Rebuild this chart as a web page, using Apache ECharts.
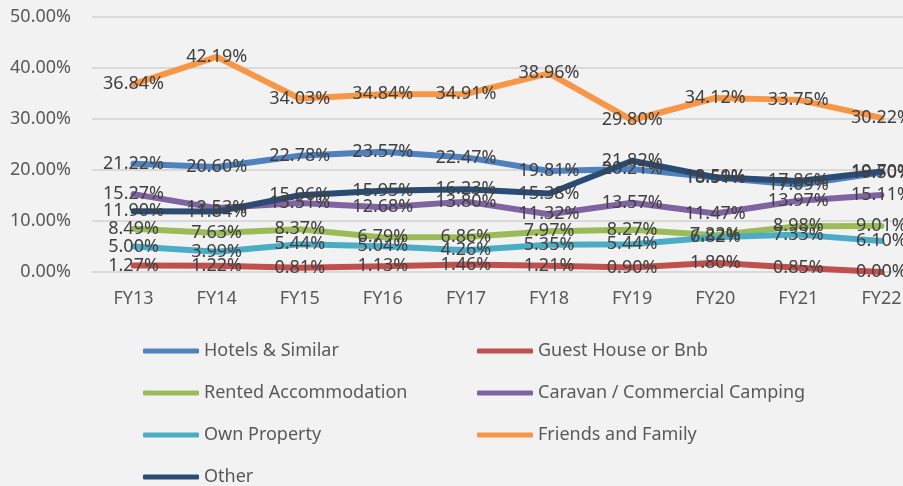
<!DOCTYPE html>
<html>
<head>
<meta charset="utf-8">
<script src="https://cdn.jsdelivr.net/npm/echarts@6/dist/echarts.min.js"></script>
<style>
  html, body { margin: 0; padding: 0; background: #f2f2f2; }
  #chart { width: 903px; height: 486px; }
</style>
</head>
<body>
<div id="chart"></div>
<script>
const categories = ['FY13', 'FY14', 'FY15', 'FY16', 'FY17', 'FY18', 'FY19', 'FY20', 'FY21', 'FY22']

const hotels = [21.22, 20.60, 22.78, 23.57, 22.47, 19.81, 20.21, 18.51, 17.09, 19.50]
const guestHouse = [1.27, 1.22, 0.81, 1.13, 1.46, 1.21, 0.90, 1.80, 0.85, 0.00]
const rented = [8.49, 7.63, 8.37, 6.79, 6.86, 7.97, 8.27, 7.22, 8.98, 9.01]
const caravan = [15.27, 12.53, 13.51, 12.68, 13.80, 11.32, 13.57, 11.47, 13.97, 15.11]
const ownProperty = [5.00, 3.99, 5.44, 5.04, 4.26, 5.35, 5.44, 6.82, 7.33, 6.10]
const friends = [36.84, 42.19, 34.03, 34.84, 34.91, 38.96, 29.80, 34.12, 33.75, 30.22]
const other = [11.90, 11.84, 15.06, 15.95, 16.23, 15.38, 21.82, 18.59, 17.86, 19.70]

const yTicks = { min: 0, max: 50, interval: 10 }

const font = 'Noto Sans'

function makeSeries(name, data, color) {
  return {
    name: name,
    type: 'line',
    data: data,
    symbol: 'circle',
    symbolSize: 1,
    lineStyle: { width: 6, color: color, cap: 'round', join: 'round' },
    itemStyle: { color: color },
    label: {
      show: true,
      position: 'inside',
      fontFamily: font,
      fontSize: 18,
      color: '#404040',
      formatter: function (p) { return p.value.toFixed(2) + '%' }
    },
    emphasis: { disabled: true },
    animation: false
  }
}

const series = [
  makeSeries('Hotels & Similar', hotels, '#4f81bd'),
  makeSeries('Guest House or Bnb', guestHouse, '#c0504d'),
  makeSeries('Rented Accommodation', rented, '#9bbb59'),
  makeSeries('Caravan / Commercial Camping', caravan, '#8064a2'),
  makeSeries('Own Property', ownProperty, '#4bacc6'),
  makeSeries('Friends and Family', friends, '#f79646'),
  makeSeries('Other', other, '#2a4b74')
]

const legendBase = {
  orient: 'vertical',
  top: 341,
  height: 200,
  padding: 0,
  itemWidth: 56,
  itemHeight: 5,
  itemGap: 22,
  icon: 'roundRect',
  textStyle: { fontFamily: font, fontSize: 18, color: '#595959', lineHeight: 20 }
}

const option = {
  backgroundColor: '#f2f2f2',
  animation: false,
  grid: { left: 92, width: 831, top: 17, height: 255, outerBoundsMode: 'none', containLabel: false },
  legend: [
    Object.assign({}, legendBase, {
      left: 143,
      data: ['Hotels & Similar', 'Rented Accommodation', 'Own Property', 'Other']
    }),
    Object.assign({}, legendBase, {
      left: 477,
      data: ['Guest House or Bnb', 'Caravan / Commercial Camping', 'Friends and Family']
    })
  ],
  xAxis: {
    type: 'category',
    data: categories,
    boundaryGap: true,
    axisLine: { show: false },
    axisTick: { show: false },
    axisLabel: { fontFamily: font, fontSize: 18, color: '#595959', margin: 18 }
  },
  yAxis: {
    type: 'value',
    min: yTicks.min,
    max: yTicks.max,
    interval: yTicks.interval,
    axisLine: { show: false },
    axisTick: { show: false },
    splitLine: { lineStyle: { color: '#d9d9d9', width: 2 } },
    axisLabel: {
      fontFamily: font, fontSize: 18, color: '#595959', margin: 21,
      formatter: function (v) { return v.toFixed(2) + '%' }
    }
  },
  series: series
}

const myChart = echarts.init(document.getElementById('chart'))
myChart.setOption(option)
</script>
</body>
</html>
